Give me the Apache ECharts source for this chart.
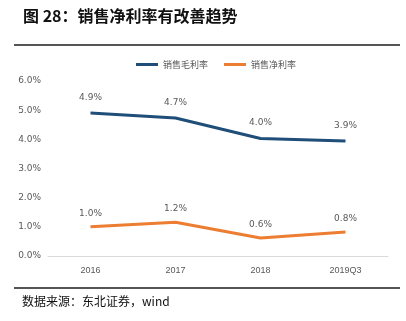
<!DOCTYPE html>
<html><head><meta charset="utf-8">
<script src="https://cdn.jsdelivr.net/npm/echarts@6/dist/echarts.min.js"></script>
<style>html,body{margin:0;padding:0;background:#fff}#c{width:406px;height:321px}</style>
</head><body><div id="c"></div>
<script>
const categories = ['2016', '2017', '2018', '2019Q3'];
const grossMargin = [4.9, 4.73, 4.03, 3.94];
const netMargin = [1.0, 1.16, 0.62, 0.82];
const yTicks = [0, 1, 2, 3, 4, 5, 6];
const seriesNames = ['销售毛利率', '销售净利率'];

const chart = echarts.init(document.getElementById('c'));
function labelStyle(dist) {
  return {
    show: true, position: 'top', distance: dist, color: '#595959', fontSize: 9,
    fontFamily: 'DejaVu Sans',
    formatter: p => Number(p.value).toFixed(1) + '%'
  };
}
chart.setOption({
  animation: false,
  graphic: [
    {type: 'text', left: 23, top: 8, style: {text: '图 28：销售净利率有改善趋势', font: 'bold 16px "Noto Sans CJK SC"', fill: '#111'}},
    {type: 'rect', shape: {x: 14, y: 44, width: 386, height: 2}, style: {fill: '#555'}},
    {type: 'rect', shape: {x: 14, y: 287, width: 386, height: 2}, style: {fill: '#555'}},
    {type: 'text', left: 22, top: 295, style: {text: '数据来源：东北证券，wind', font: '12px "Noto Sans CJK SC"', fill: '#111'}}
  ],
  legend: {
    top: 55, left: 131,
    itemWidth: 22, itemHeight: 3, itemGap: 16, icon: 'rect',
    textStyle: {color: '#595959', fontSize: 9, fontFamily: 'Noto Sans CJK SC'},
    data: seriesNames
  },
  grid: {left: 48, right: 18, top: 81, bottom: 65},
  xAxis: {
    type: 'category', data: categories, boundaryGap: true,
    axisLine: {lineStyle: {color: '#d9d9d9'}}, axisTick: {show: false},
    axisLabel: {color: '#595959', fontSize: 9, margin: 10}
  },
  yAxis: {
    type: 'value', min: yTicks[0], max: yTicks[yTicks.length - 1], interval: 1,
    splitLine: {show: false}, axisLine: {show: false}, axisTick: {show: false},
    axisLabel: {color: '#595959', fontSize: 9, margin: 7, fontFamily: 'DejaVu Sans', formatter: v => v.toFixed(1) + '%'}
  },
  series: [
    {name: seriesNames[0], type: 'line', data: grossMargin, symbol: 'circle', symbolSize: 0, showSymbol: true, lineStyle: {width: 3, color: '#1f4e79'}, itemStyle: {color: '#1f4e79'}, label: labelStyle(11)},
    {name: seriesNames[1], type: 'line', data: netMargin, symbol: 'circle', symbolSize: 0, showSymbol: true, lineStyle: {width: 3, color: '#ed7d31'}, itemStyle: {color: '#ed7d31'}, label: labelStyle(9)}
  ]
});
</script></body></html>
